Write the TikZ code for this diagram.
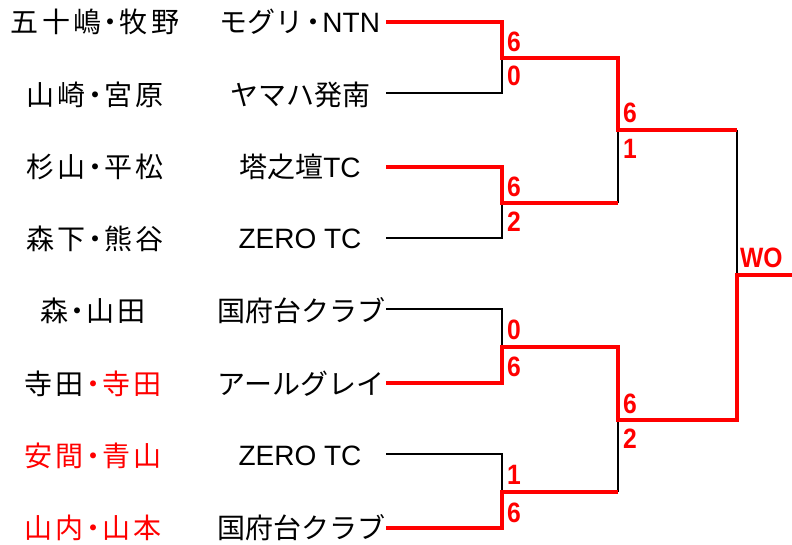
\documentclass[tikz,border=0pt]{standalone}
\usepackage{fontspec}
\setmainfont{Liberation Sans}
\newfontfamily\jpfont{Noto Sans CJK JP}
\newfontfamily\jpspaced[LetterSpace=12]{Noto Sans CJK JP}
\newfontfamily\jpdot[RawFeature=+palt]{Noto Sans CJK JP}
\newfontfamily\latinfont{Liberation Sans}
\newfontfamily\scorefont[FakeStretch=0.88]{Liberation Sans}
\newcommand\nkg{{\jpdot\hspace{0.08em}・\hspace{0.08em}}}
\begin{document}
\begin{tikzpicture}[x=1pt,y=-1pt,
  win/.style={draw=red, line width=4pt},
  lose/.style={draw=black, line width=2.5pt},
  namebox/.style={inner sep=0pt, font=\jpspaced\fontsize{28}{28}\selectfont},
  teambox/.style={inner sep=0pt, font=\jpfont\fontsize{28}{28}\selectfont},
  score/.style={inner sep=0pt, text=red, font=\scorefont\bfseries\fontsize{28}{28}\selectfont, anchor=west},
  redtext/.style={text=red}]
\useasboundingbox (0,0) rectangle (792,545);
% names
\node[namebox] (n1) at (95,22) {五十嶋\nkg 牧野};
\node[namebox] (n2) at (95,95) {山崎\nkg 宮原};
\node[namebox] (n3) at (95,167) {杉山\nkg 平松};
\node[namebox] (n4) at (95,239) {森下\nkg 熊谷};
\node[namebox] (n5) at (93,311) {森\nkg 山田};
\node[namebox] (n6) at (93,384) {寺田\textcolor{red}{\nkg 寺田}};
\node[namebox, redtext] (n7) at (93,456) {安間\nkg 青山};
\node[namebox, redtext] (n8) at (93,528) {山内\nkg 山本};
% teams
\node[teambox] (t1) at (300,22) {モグリ\nkg{\latinfont NTN}};
\node[teambox] (t2) at (300,95) {ヤマハ発南};
\node[teambox] (t3) at (300,167) {塔之壇{\latinfont TC}};
\node[teambox] (t4) at (300,239) {\latinfont ZERO TC};
\node[teambox] (t5) at (301,311) {国府台クラブ};
\node[teambox] (t6) at (301,384) {アールグレイ};
\node[teambox] (t7) at (300,456) {\latinfont ZERO TC};
\node[teambox] (t8) at (301,528) {国府台クラブ};
% coordinates
\coordinate (s1) at (386,22);
\coordinate (s2) at (386,93);
\coordinate (s3) at (386,167);
\coordinate (s4) at (386,238);
\coordinate (s5) at (386,309);
\coordinate (s6) at (386,383);
\coordinate (s7) at (386,454);
\coordinate (s8) at (386,528);
\coordinate (m1) at (502,58);
\coordinate (m2) at (502,203);
\coordinate (m3) at (502,347);
\coordinate (m4) at (502,492);
\coordinate (q1) at (618,130);
\coordinate (c2) at (618,203);
\coordinate (q2) at (618,420);
\coordinate (c4) at (618,492);
\coordinate (c3) at (737,130);
\coordinate (f) at (737,275);
\coordinate (e) at (792,275);
% losers
\draw[lose] (s2) -| (m1);
\draw[lose] (s4) -| (m2);
\draw[lose] (s5) -| (m3);
\draw[lose] (s7) -| (m4);
\draw[lose] (c2) -- (q1);
\draw[lose] (c4) -- (q2);
\draw[lose] (c3) -- (f);
% winners
\draw[win] (s1) -| (m1) -| (q1) -- (c3);
\draw[win] (s3) -| (m2) -- (c2);
\draw[win] (s6) -| (m3) -| (q2) -| (f) -- (e);
\draw[win] (s8) -| (m4) -- (c4);
% scores
\node[score] (a1) at (507,42) {6};
\node[score] (b1) at (507,76) {0};
\node[score] (a2) at (507,187) {6};
\node[score] (b2) at (507,222) {2};
\node[score] (a3) at (507,330) {0};
\node[score] (b3) at (507,367) {6};
\node[score] (a4) at (507,475) {1};
\node[score] (b4) at (507,513) {6};
\node[score] (a5) at (623,113) {6};
\node[score] (b5) at (623,149) {1};
\node[score] (a6) at (623,404) {6};
\node[score] (b6) at (623,439) {2};
\node[score] (wo) at (740,258) {WO};
\end{tikzpicture}
\end{document}
